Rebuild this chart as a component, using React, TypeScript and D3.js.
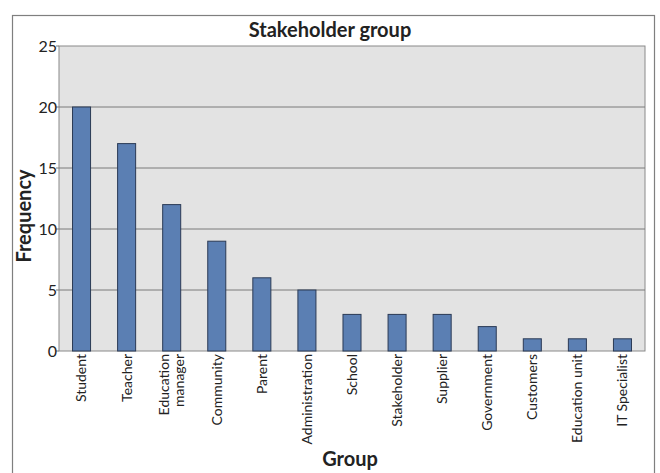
import React from "react";
import * as d3 from "d3";

const categories = [
  "Student",
  "Teacher",
  "Education manager",
  "Community",
  "Parent",
  "Administration",
  "School",
  "Stakeholder",
  "Supplier",
  "Government",
  "Customers",
  "Education unit",
  "IT Specialist",
];
const frequency = [20, 17, 12, 9, 6, 5, 3, 3, 3, 2, 1, 1, 1];
const yTicks = [0, 5, 10, 15, 20, 25];

const W = 660;
const H = 473;
const margin = { left: 59, top: 46, right: 15, bottom: 122 };
const FONT = "Lato, 'Open Sans', sans-serif";

const App: React.FC = () => {
  const x = d3
    .scaleBand<string>()
    .domain(categories)
    .range([margin.left, W - margin.right])
    .paddingInner(0.6)
    .paddingOuter(0.3);
  const y = d3
    .scaleLinear()
    .domain([0, 25])
    .range([H - margin.bottom, margin.top]);

  const x0 = margin.left;
  const x1 = W - margin.right;
  const y0 = y(0);
  const y1 = y(25);

  return (
    <svg
      width={W}
      height={H}
      style={{ position: "absolute", left: 0, top: 0, background: "#fff" }}
      fontFamily={FONT}
    >
      {/* outer frame */}
      <rect x={12.5} y={15.5} width={642} height={480} fill="#fff" stroke="#7f7f7f" strokeWidth={1.2} />

      <text x={330} y={37} textAnchor="middle" fontSize={20} fontWeight="bold" fill="#222">
        Stakeholder group
      </text>

      {/* plot area */}
      <rect x={x0} y={y1} width={x1 - x0} height={y0 - y1} fill="#e3e3e3" stroke="#8a8a8a" strokeWidth={1} />

      {yTicks.map((t) => (
        <g key={t}>
          {t > 0 && t < 25 && (
            <line x1={x0} x2={x1} y1={y(t)} y2={y(t)} stroke="#7a7a7a" strokeWidth={1} />
          )}
          <line x1={x0 - 3} x2={x0} y1={y(t)} y2={y(t)} stroke="#7a7a7a" />
          <text x={x0 - 2} y={y(t)} dy="0.36em" textAnchor="end" fontSize={16} fill="#222">
            {t}
          </text>
        </g>
      ))}

      {categories.map((c, i) => (
        <rect
          key={c}
          x={x(c)!}
          y={y(frequency[i])}
          width={x.bandwidth()}
          height={y0 - y(frequency[i])}
          fill="#5b7fb3"
          stroke="#2b3a55"
          strokeWidth={1}
        />
      ))}

      {categories.map((c) => {
        const cx = x(c)! + x.bandwidth() / 2;
        const lines = c === "Education manager" ? ["Education", "manager"] : [c];
        return (
          <text
            key={c}
            transform={`translate(${cx},${y0 + 3}) rotate(-90)`}
            textAnchor="end"
            fontSize={14}
            fill="#222"
          >
            {lines.map((l, k) => (
              <tspan
                key={l}
                x={0}
                dy={k === 0 ? (lines.length === 1 ? "0.35em" : "-0.2em") : "1.05em"}
              >
                {l}
              </tspan>
            ))}
          </text>
        );
      })}

      <text
        transform={`translate(31,216) rotate(-90)`}
        textAnchor="middle"
        fontSize={20}
        fontWeight="bold"
        fill="#222"
      >
        Frequency
      </text>
      <text x={350} y={466} textAnchor="middle" fontSize={20} fontWeight="bold" fill="#222">
        Group
      </text>
    </svg>
  );
};

export default App;
